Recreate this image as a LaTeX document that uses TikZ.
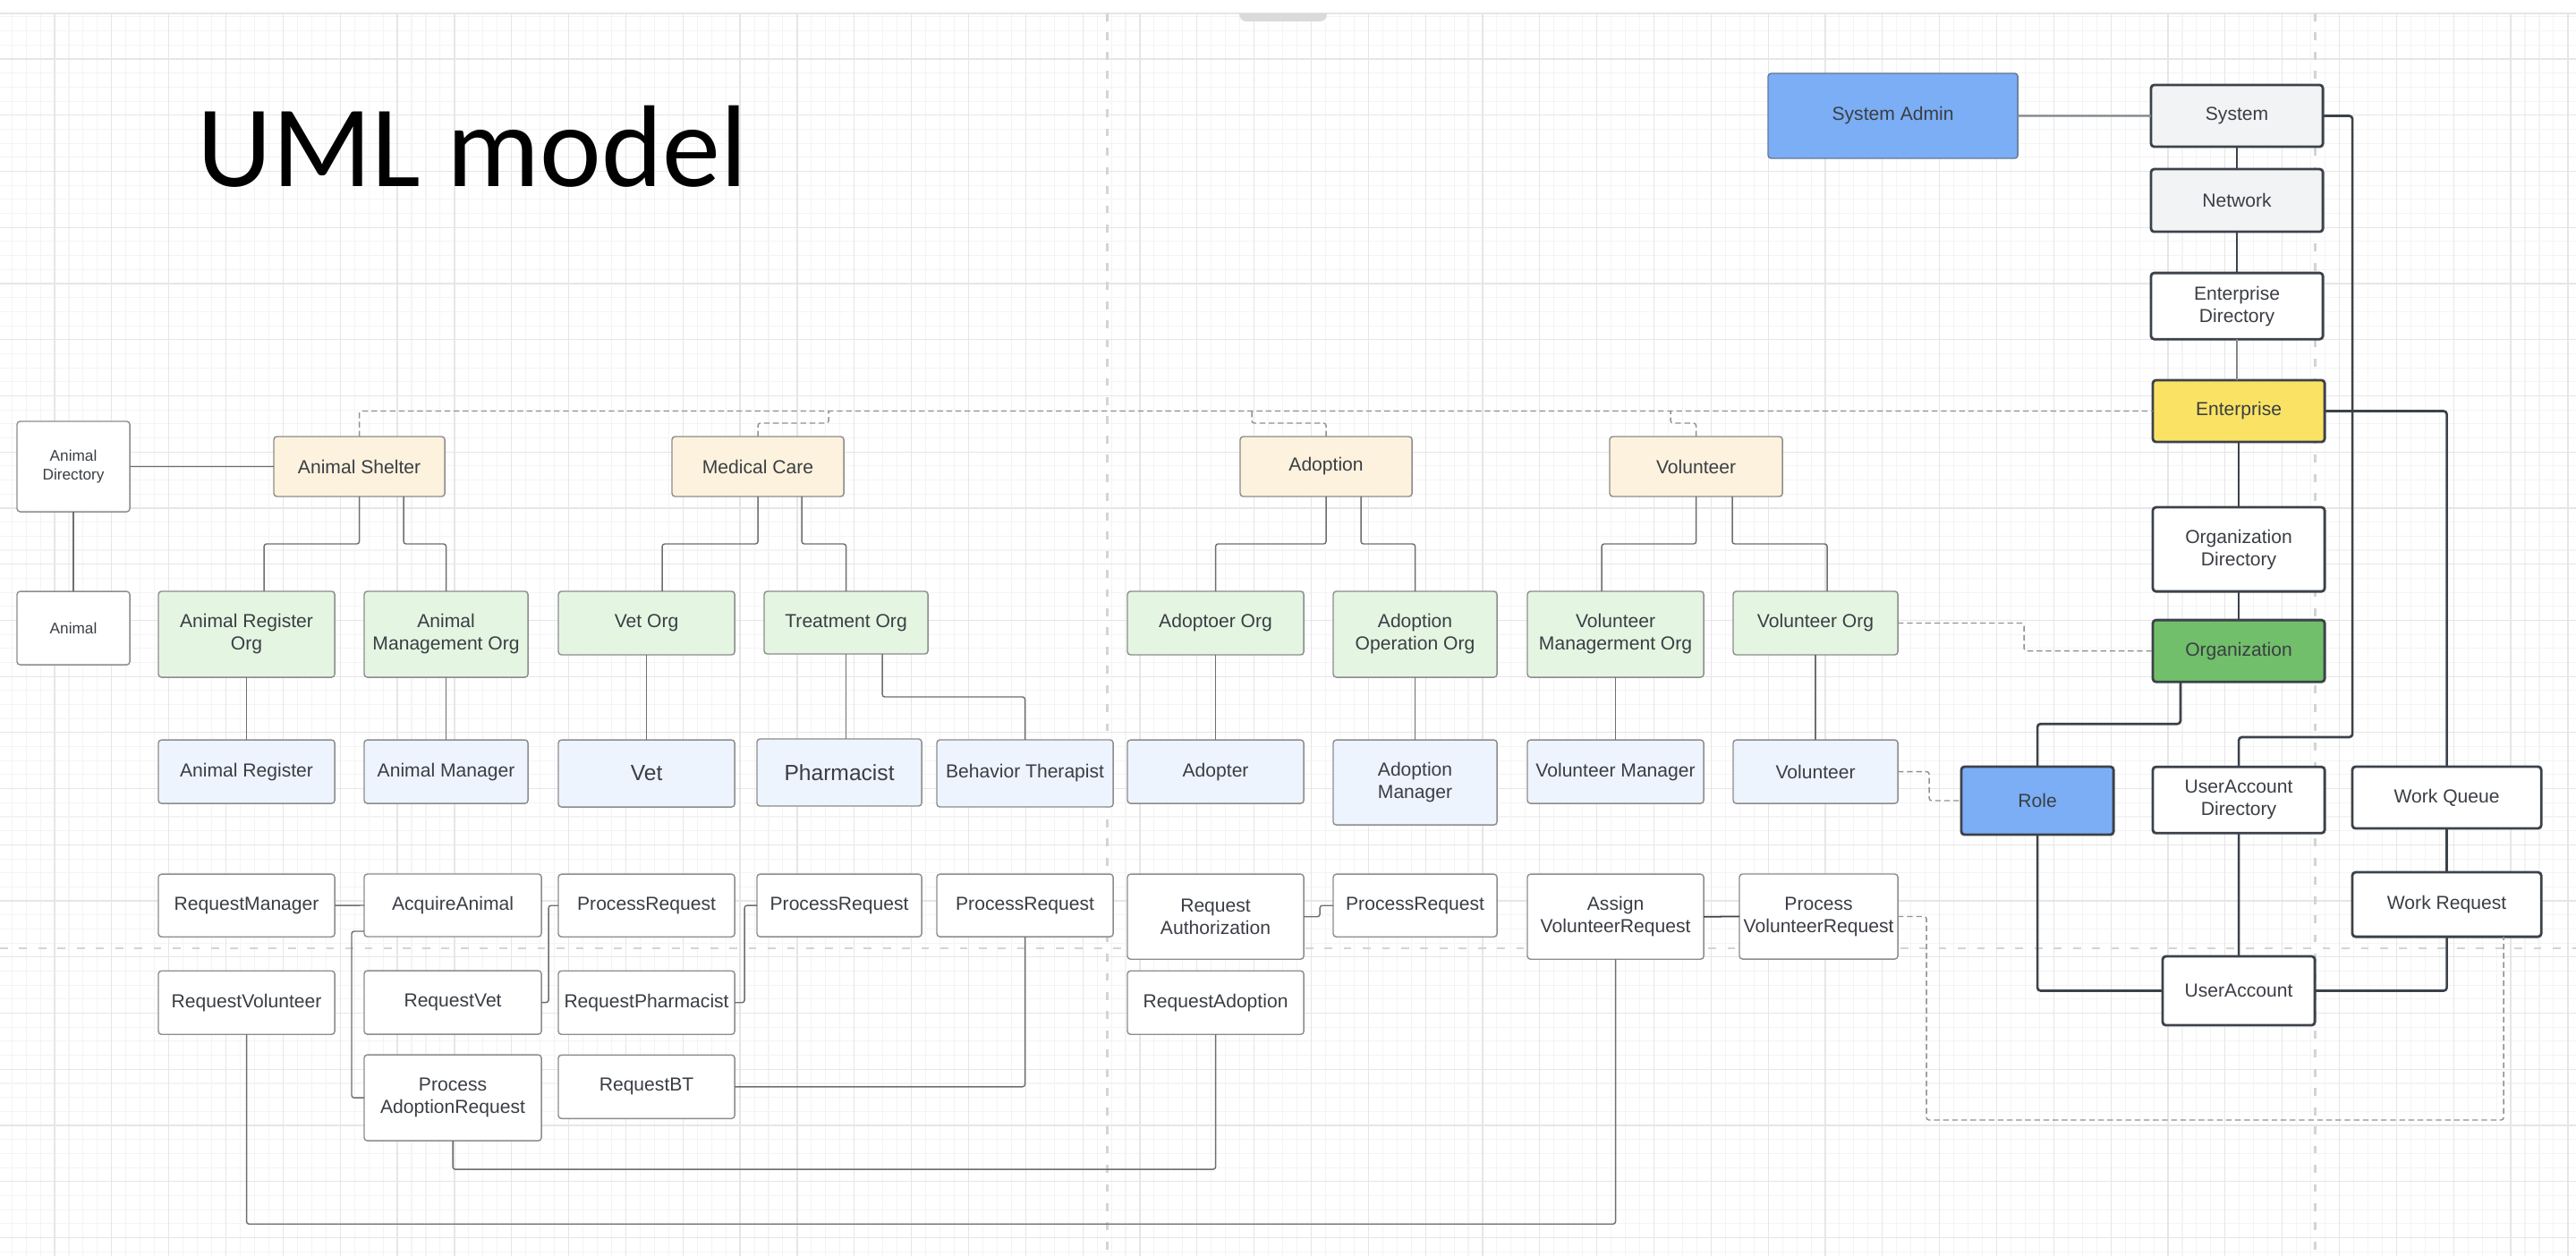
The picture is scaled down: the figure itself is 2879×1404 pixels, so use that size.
\documentclass[tikz,border=0pt]{standalone}
\usepackage{fontspec}
\setmainfont{Liberation Sans}
\newfontfamily\umltitle{Carlito}
\usetikzlibrary{positioning}

\definecolor{cream}{RGB}{253,242,221}
\definecolor{paleGreen}{RGB}{228,246,226}
\definecolor{paleBlue}{RGB}{237,244,254}
\definecolor{skyBlue}{RGB}{123,174,244}
\definecolor{sunYellow}{RGB}{250,227,100}
\definecolor{leafGreen}{RGB}{113,191,106}
\definecolor{coreGrey}{RGB}{242,243,245}
\definecolor{thinBorder}{RGB}{140,140,140}
\definecolor{adminBorder}{RGB}{100,120,150}
\definecolor{darkBorder}{RGB}{60,66,74}
\definecolor{labelText}{RGB}{58,62,68}
\definecolor{wireGrey}{RGB}{110,110,110}
\definecolor{midWire}{RGB}{130,135,140}
\definecolor{dashGrey}{RGB}{145,145,145}
\definecolor{pageLine}{RGB}{212,212,212}
\definecolor{gridMinor}{RGB}{244,244,244}
\definecolor{gridMajor}{RGB}{230,230,230}
\definecolor{tabGrey}{RGB}{218,218,218}

\newcommand{\umlfont}{\fontsize{6}{7.1}\selectfont}
\newcommand{\umlsmall}{\fontsize{4.9}{5.8}\selectfont}
\newcommand{\umlbig}{\fontsize{7}{8.4}\selectfont}

\tikzset{
  nbox/.style={draw=thinBorder, line width=0.4pt, rounded corners=1pt, fill=white,
    text=labelText, font=\umlfont, align=center, inner sep=0pt, outer sep=0pt,
    anchor=north west},
  deptbox/.style={nbox, fill=cream},
  orgbox/.style={nbox, fill=paleGreen},
  rolebox/.style={nbox, fill=paleBlue},
  corebox/.style={nbox, draw=darkBorder, line width=0.8pt},
  conn/.style={draw=wireGrey, line width=0.4pt, rounded corners=0.8pt},
  darkconn/.style={draw=darkBorder, line width=0.75pt, rounded corners=1pt},
  dashconn/.style={draw=dashGrey, line width=0.4pt, dash pattern=on 1.8pt off 1.1pt,
    rounded corners=0.8pt},
  pagebreak/.style={draw=pageLine, line width=0.85pt, dash pattern=on 2.5pt off 3.6pt},
}

\begin{document}
\begin{tikzpicture}[x=0.01cm, y=-0.01cm]
  \useasboundingbox (0,0) rectangle (2879,1404);
  \fill[white] (0,0) rectangle (2879,1404);

  % background grid of the canvas
  \begin{scope}
    \clip (0,15) rectangle (2879,1404);
    \begin{scope}[shift={(-2.8,3.3)}]
      \draw[gridMinor, line width=0.3pt, step={(0.1595cm,0.15675cm)}] (-100,1500) grid (3000,-100);
      \draw[gridMajor, line width=0.35pt, step={(0.638cm,0.627cm)}] (-100,1500) grid (3000,-100);
    \end{scope}
  \end{scope}
  \draw[gridMajor, line width=0.35pt] (0,15) -- (2879,15);
  \fill[tabGrey] (1385,15) [rounded corners=0.08cm] -- (1385,24) -- (1483,24) [sharp corners] -- (1483,15) -- cycle;

  % page breaks
  \draw[pagebreak] (1237,15) -- (1237,1404);
  \draw[pagebreak] (2587,15) -- (2587,1404);
  \draw[pagebreak] (0,1060) -- (2879,1060);

  \node (title) [anchor=base west, inner sep=0pt, font=\umltitle\fontsize{37}{44}\selectfont] at (220,209) {UML model};

  % departments
  \node (adir) [nbox, font=\umlsmall, minimum width=1.26cm, minimum height=1.01cm] at (19,471) {Animal\\Directory};
  \node (animal) [nbox, font=\umlsmall, minimum width=1.26cm, minimum height=0.82cm, below=0.89cm of adir] {Animal};
  \node (shelter) [deptbox, minimum width=1.91cm, minimum height=0.67cm] at (306,488) {Animal Shelter};
  \node (medcare) [deptbox, minimum width=1.92cm, minimum height=0.67cm] at (751,488) {Medical Care};
  \node (adoption) [deptbox, minimum width=1.92cm, minimum height=0.67cm] at (1386,488) {Adoption};
  \node (volunteer) [deptbox, minimum width=1.93cm, minimum height=0.67cm] at (1799,488) {Volunteer};

  % organizations
  \node (regorg) [orgbox, minimum width=1.97cm, minimum height=0.96cm] at (177,661) {Animal Register\\Org};
  \node (mgmtorg) [orgbox, minimum width=1.83cm, minimum height=0.96cm] at (407,661) {Animal\\Management Org};
  \node (vetorg) [orgbox, minimum width=1.97cm, minimum height=0.71cm] at (624,661) {Vet Org};
  \node (treatorg) [orgbox, minimum width=1.83cm, minimum height=0.70cm] at (854,661) {Treatment Org};
  \node (adoptorg) [orgbox, minimum width=1.97cm, minimum height=0.71cm] at (1260,661) {Adoptoer Org};
  \node (adoptoporg) [orgbox, minimum width=1.83cm, minimum height=0.96cm] at (1490,661) {Adoption\\Operation Org};
  \node (volmgmtorg) [orgbox, minimum width=1.97cm, minimum height=0.96cm] at (1707,661) {Volunteer\\Managerment Org};
  \node (volorg) [orgbox, minimum width=1.84cm, minimum height=0.71cm] at (1937,661) {Volunteer Org};

  % roles
  \node (animreg) [rolebox, minimum width=1.97cm, minimum height=0.71cm, below=0.70cm of regorg] {Animal Register};
  \node (animmgr) [rolebox, minimum width=1.83cm, minimum height=0.71cm, below=0.70cm of mgmtorg] {Animal Manager};
  \node (vet) [rolebox, font=\umlbig, minimum width=1.97cm, minimum height=0.75cm, below=0.95cm of vetorg] {Vet};
  \node (pharm) [rolebox, font=\umlbig, minimum width=1.84cm, minimum height=0.75cm] at (846,826) {Pharmacist};
  \node (behav) [rolebox, minimum width=1.97cm, minimum height=0.75cm] at (1047,827) {Behavior Therapist};
  \node (adopter) [rolebox, minimum width=1.97cm, minimum height=0.71cm, below=0.95cm of adoptorg] {Adopter};
  \node (adoptmgr) [rolebox, minimum width=1.83cm, minimum height=0.95cm, below=0.70cm of adoptoporg] {Adoption\\Manager};
  \node (volmgr) [rolebox, minimum width=1.97cm, minimum height=0.71cm, below=0.70cm of volmgmtorg] {Volunteer Manager};
  \node (vol) [rolebox, minimum width=1.84cm, minimum height=0.71cm, below=0.95cm of volorg] {Volunteer};

  % work requests
  \node (reqmgr) [nbox, minimum width=1.97cm, minimum height=0.70cm, below=0.79cm of animreg] {RequestManager};
  \node (reqvol) [nbox, minimum width=1.97cm, minimum height=0.71cm, below=0.38cm of reqmgr] {RequestVolunteer};
  \node (acquire) [nbox, minimum width=1.98cm, minimum height=0.70cm] at (407,977) {AcquireAnimal};
  \node (reqvet) [nbox, minimum width=1.98cm, minimum height=0.71cm, below=0.38cm of acquire] {RequestVet};
  \node (procadopt) [nbox, minimum width=1.98cm, minimum height=0.96cm, below=0.23cm of reqvet] {Process\\AdoptionRequest};
  \node (procreq1) [nbox, minimum width=1.97cm, minimum height=0.70cm, below=0.75cm of vet] {ProcessRequest};
  \node (reqpharm) [nbox, minimum width=1.97cm, minimum height=0.71cm, below=0.38cm of procreq1] {RequestPharmacist};
  \node (reqbt) [nbox, minimum width=1.97cm, minimum height=0.71cm, below=0.23cm of reqpharm] {RequestBT};
  \node (procreq2) [nbox, minimum width=1.84cm, minimum height=0.70cm, below=0.76cm of pharm] {ProcessRequest};
  \node (procreq3) [nbox, minimum width=1.97cm, minimum height=0.70cm, below=0.75cm of behav] {ProcessRequest};
  \node (reqauth) [nbox, minimum width=1.97cm, minimum height=0.95cm, below=0.79cm of adopter] {Request\\Authorization};
  \node (reqadopt) [nbox, minimum width=1.97cm, minimum height=0.71cm, below=0.13cm of reqauth] {RequestAdoption};
  \node (procreq4) [nbox, minimum width=1.83cm, minimum height=0.70cm, below=0.55cm of adoptmgr] {ProcessRequest};
  \node (assignvr) [nbox, minimum width=1.97cm, minimum height=0.95cm, below=0.79cm of volmgr] {Assign\\VolunteerRequest};
  \node (procvr) [nbox, minimum width=1.77cm, minimum height=0.95cm] at (1944,977) {Process\\VolunteerRequest};

  % system side
  \node (sysadmin) [nbox, fill=skyBlue, draw=adminBorder, minimum width=2.79cm, minimum height=0.95cm] at (1976,82) {System Admin};
  \node (system) [corebox, fill=coreGrey, minimum width=1.92cm, minimum height=0.69cm] at (2404,95) {System};
  \node (network) [corebox, fill=coreGrey, minimum width=1.92cm, minimum height=0.70cm, below=0.25cm of system] {Network};
  \node (entdir) [corebox, minimum width=1.92cm, minimum height=0.74cm, below=0.46cm of network] {Enterprise\\Directory};
  \node (enterprise) [corebox, fill=sunYellow, minimum width=1.92cm, minimum height=0.69cm] at (2406,425) {Enterprise};
  \node (orgdir) [corebox, minimum width=1.92cm, minimum height=0.94cm, below=0.73cm of enterprise] {Organization\\Directory};
  \node (organization) [corebox, fill=leafGreen, minimum width=1.92cm, minimum height=0.69cm, below=0.32cm of orgdir] {Organization};
  \node (uadir) [corebox, minimum width=1.92cm, minimum height=0.74cm, below=0.95cm of organization] {UserAccount\\Directory};
  \node (role) [corebox, fill=skyBlue, minimum width=1.70cm, minimum height=0.76cm] at (2192,857) {Role};
  \node (workq) [corebox, minimum width=2.11cm, minimum height=0.69cm] at (2629,857) {Work Queue};
  \node (workreq) [corebox, minimum width=2.11cm, minimum height=0.72cm, below=0.49cm of workq] {Work Request};
  \node (useracct) [corebox, minimum width=1.70cm, minimum height=0.77cm] at (2417,1069) {UserAccount};

  % tree of the shelter side
  \draw[conn] (adir.east) -- (shelter.west);
  \draw[conn] (adir.south) -- (animal.north);
  \draw[conn] (shelter.south) -- ++(0,53) -| ([xshift=0.195cm]regorg.north);
  \draw[conn] ([xshift=0.495cm]shelter.south) -- ++(0,53) -| (mgmtorg.north);
  \draw[conn] (medcare.south) -- ++(0,53) -| ([xshift=0.175cm]vetorg.north);
  \draw[conn] ([xshift=0.49cm]medcare.south) -- ++(0,53) -| (treatorg.north);
  \draw[conn] (adoption.south) -- ++(0,53) -| (adoptorg.north);
  \draw[conn] ([xshift=0.39cm]adoption.south) -- ++(0,53) -| (adoptoporg.north);
  \draw[conn] (volunteer.south) -- ++(0,53) -| ([xshift=-0.155cm]volmgmtorg.north);
  \draw[conn] ([xshift=0.405cm]volunteer.south) -- ++(0,53) -| ([xshift=0.13cm]volorg.north);
  \draw[conn] (regorg.south) -- (animreg.north);
  \draw[conn] (mgmtorg.south) -- (animmgr.north);
  \draw[conn] (vetorg.south) -- (vet.north);
  \draw[conn] (treatorg.south) -- (treatorg.south |- pharm.north);
  \draw[conn] ([xshift=0.405cm]treatorg.south) -- ++(0,48) -| (behav.north);
  \draw[conn] (adoptorg.south) -- (adopter.north);
  \draw[conn] (adoptoporg.south) -- (adoptmgr.north);
  \draw[conn] (volmgmtorg.south) -- (volmgr.north);
  \draw[conn] (volorg.south) -- (vol.north);

  % links to the enterprise layer
  \draw[dashconn] (shelter.north) |- (enterprise.west);
  \draw[dashconn] (medcare.north) -- ++(0,-15) -- ++(79,0) -- ++(0,-13.5);
  \draw[dashconn] (adoption.north) -- ++(0,-15) -- ++(-83,0) -- ++(0,-13.5);
  \draw[dashconn] (volunteer.north) -- ++(0,-15) -- ++(-28.5,0) -- ++(0,-13.5);
  \draw[dashconn] (volorg.east) -- ++(141,0) |- (organization.west);
  \draw[dashconn] (vol.east) -- ++(35,0) |- (role.west);
  \draw[dashconn] (procvr.east) -- ++(32,0) -- ++(0,227.5) -| ([xshift=0.635cm]workreq.south);

  % system model
  \draw[midWire, line width=0.6pt] (sysadmin.east) -- (system.west);
  \draw[darkconn] (system.south) -- (network.north);
  \draw[darkconn] (network.south) -- (entdir.north);
  \draw[midWire, line width=0.6pt] (entdir.south) -- (entdir.south |- enterprise.north);
  \draw[darkconn] (enterprise.south) -- (orgdir.north);
  \draw[darkconn] (orgdir.south) -- (organization.north);
  \draw[darkconn] ([xshift=-0.65cm]organization.south) -- ++(0,47) -| (role.north);
  \draw[darkconn] (system.east) -- ++(33,0) -- ++(0,694.5) -| (uadir.north);
  \draw[darkconn] (enterprise.east) -| (workq.north);
  \draw[darkconn] (workq.south) -- (workreq.north);
  \draw[darkconn] (workreq.south) |- (useracct.east);
  \draw[darkconn] (role.south) |- (useracct.west);
  \draw[darkconn] (uadir.south) -- (useracct.north);

  % request flow
  \draw[conn] (reqmgr.east) -- (acquire.west);
  \draw[conn] ([yshift=-0.29cm]acquire.west) -- ++(-14,0) |- (procadopt.west);
  \draw[conn] (reqvet.east) -- ++(8,0) |- (procreq1.west);
  \draw[conn] (reqpharm.east) -- ++(11,0) |- (procreq2.west);
  \draw[conn] (reqbt.east) -| (procreq3.south);
  \draw[conn] (procadopt.south) -- ++(0,32) -| (reqadopt.south);
  \draw[conn] (reqvol.south) -- ++(0,212) -| (assignvr.south);
  \draw[conn] (reqauth.east) -- ++(18,0) |- (procreq4.west);
  \draw[darkconn, line width=0.5pt] (assignvr.east) -- (procvr.west);
\end{tikzpicture}
\end{document}
